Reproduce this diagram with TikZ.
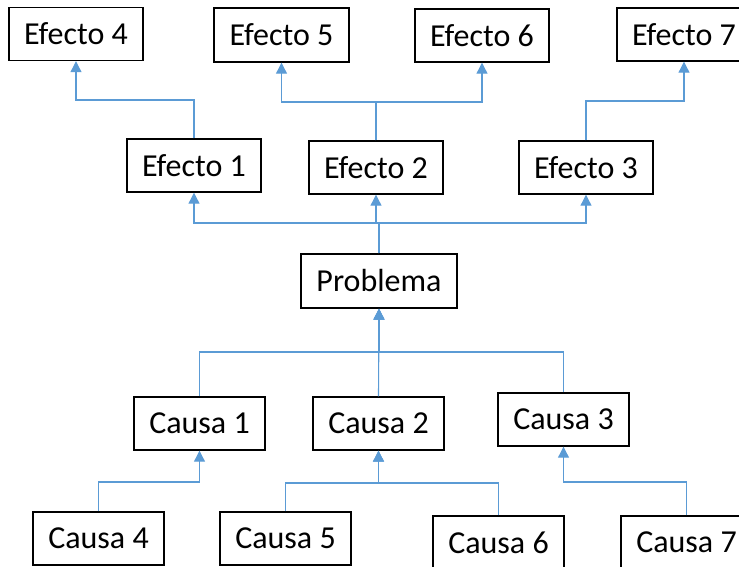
\documentclass[tikz,border=0pt]{standalone}
\usepackage{fontspec}
\setmainfont{Carlito}
\usetikzlibrary{arrows.meta}
\begin{document}
\begin{tikzpicture}[x=1pt,y=-1pt,
  box/.style={draw=black,line width=1.4pt,inner sep=0pt,minimum width=134pt,minimum height=53pt,font=\fontsize{32}{32}\selectfont},
  cbox/.style={box,minimum width=131pt},
  conn/.style={draw={rgb,255:red,91;green,155;blue,213},line width=1.1pt},
  arr/.style={conn,-{Triangle[width=11pt,length=11pt]}}]
\useasboundingbox (0,0) rectangle (739,567);
\clip (0,0) rectangle (739,567);
% effects
\node[box] (e4) at (76,34) {Efecto 4};
\node[box,minimum width=135pt,minimum height=54pt] (e5) at (281.5,35) {Efecto 5};
\node[box] (e6) at (482,35.5) {Efecto 6};
\node[box] (e7) at (684,34.5) {Efecto 7};
\node[box] (e1) at (194,165.5) {Efecto 1};
\node[box] (e2) at (376,167.5) {Efecto 2};
\node[box] (e3) at (586,167.5) {Efecto 3};
% problem
\node[box,minimum width=156pt,minimum height=54pt] (p) at (379,281) {Problema};
% causes
\node[cbox] (c1) at (199.5,423.5) {Causa 1};
\node[cbox] (c2) at (378.5,423.5) {Causa 2};
\node[cbox] (c3) at (563.5,419.5) {Causa 3};
\node[cbox] (c4) at (98.5,538.5) {Causa 4};
\node[cbox] (c5) at (285.5,538.5) {Causa 5};
\node[cbox] (c6) at (498.5,542.5) {Causa 6};
\node[cbox] (c7) at (686.5,542.5) {Causa 7};
% effect connectors
\draw[arr] (e1.north) -- (e1.north |- 0,100) -| (e4.south);
\draw[arr] (e2.north) -- (e2.north |- 0,102) -| (e5.south);
\draw[arr] (e2.north) -- (e2.north |- 0,102) -| (e6.south);
\draw[arr] (e3.north) -- (e3.north |- 0,101) -| (e7.south);
\draw[arr] (p.north) -- (p.north |- 0,223) -| (e1.south);
\draw[arr] (p.north) -- (p.north |- 0,223) -| (e2.south);
\draw[arr] (p.north) -- (p.north |- 0,223) -| (e3.south);
% cause connectors
\draw[arr] (c1.north) -- (c1.north |- 0,352) -| (p.south);
\draw[arr] (c2.north) -- (p.south);
\draw[arr] (c3.north) -- (c3.north |- 0,352) -| (p.south);
\draw[arr] (c4.north) -- (c4.north |- 0,482) -| (c1.south);
\draw[arr] (c5.north) -- (c5.north |- 0,483) -| (c2.south);
\draw[arr] (c6.north) -- (c6.north |- 0,483) -| (c2.south);
\draw[arr] (c7.north) -- (c7.north |- 0,482) -| (c3.south);
\end{tikzpicture}
\end{document}
